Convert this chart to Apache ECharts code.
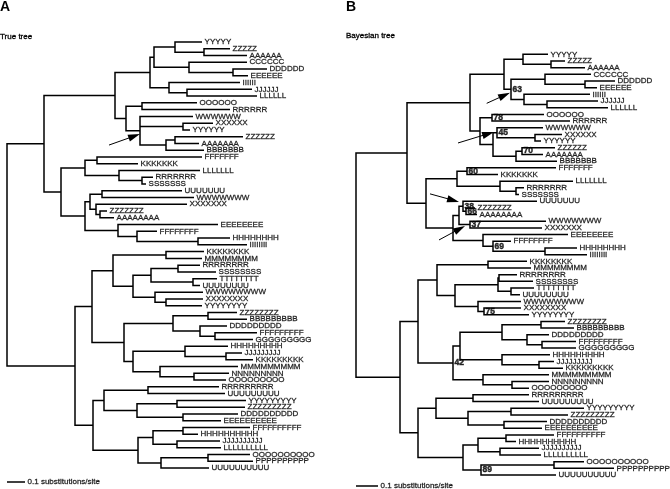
<!DOCTYPE html>
<html><head><meta charset="utf-8">
<script src="https://cdn.jsdelivr.net/npm/echarts@6/dist/echarts.min.js"></script>
<style>html,body{margin:0;padding:0;background:#fff}#c{width:670px;height:489px}</style>
</head><body><div id="c"></div>
<script>
// ---------- DATA ----------
// leaf labels, top to bottom
const namesA = ['YYYYY','ZZZZZ','AAAAAA','CCCCCC','DDDDDD','EEEEEE','IIIIII','JJJJJJ','LLLLLL','OOOOOO','RRRRRR','WWWWWW','XXXXXX','YYYYYY','ZZZZZZ',
 'AAAAAAA','BBBBBBB','FFFFFFF','KKKKKKK','LLLLLLL','RRRRRRR','SSSSSSS','UUUUUUU','WWWWWWW','XXXXXXX','ZZZZZZZ',
 'AAAAAAAA','EEEEEEEE','FFFFFFFF','HHHHHHHH','IIIIIIII','KKKKKKKK','MMMMMMMM','RRRRRRRR','SSSSSSSS','TTTTTTTT','UUUUUUUU','WWWWWWWW','XXXXXXXX','YYYYYYYY','ZZZZZZZZ',
 'BBBBBBBBB','DDDDDDDDD','FFFFFFFFF','GGGGGGGGG','HHHHHHHHH','JJJJJJJJJ','KKKKKKKKK','MMMMMMMMM','NNNNNNNNN','OOOOOOOOO','RRRRRRRRR','UUUUUUUUU','YYYYYYYYY','ZZZZZZZZZ',
 'DDDDDDDDDD','EEEEEEEEEE','FFFFFFFFFF','HHHHHHHHHH','JJJJJJJJJJ','LLLLLLLLLL','OOOOOOOOOO','PPPPPPPPPP','UUUUUUUUUU'];
const namesB = ['YYYYY','ZZZZZ','AAAAAA','CCCCCC','DDDDDD','EEEEEE','IIIIII','JJJJJJ','LLLLLL','OOOOOO','RRRRRR','WWWWWW','XXXXXX','YYYYYY','ZZZZZZ',
 'AAAAAAA','BBBBBBB','FFFFFFF','KKKKKKK','LLLLLLL','RRRRRRR','SSSSSSS','UUUUUUU','ZZZZZZZ','AAAAAAAA','WWWWWWW','XXXXXXX',
 'EEEEEEEE','FFFFFFFF','HHHHHHHH','IIIIIIII','KKKKKKKK','MMMMMMMM','RRRRRRRR','SSSSSSSS','TTTTTTTT','UUUUUUUU','WWWWWWWW','XXXXXXXX','YYYYYYYY','ZZZZZZZZ',
 'BBBBBBBBB','DDDDDDDDD','FFFFFFFFF','GGGGGGGGG','HHHHHHHHH','JJJJJJJJJ','KKKKKKKKK','MMMMMMMMM','NNNNNNNNN','OOOOOOOOO','RRRRRRRRR','UUUUUUUUU','YYYYYYYYY','ZZZZZZZZZ',
 'DDDDDDDDDD','EEEEEEEEEE','FFFFFFFFFF','HHHHHHHHHH','JJJJJJJJJJ','LLLLLLLLLL','OOOOOOOOOO','PPPPPPPPPP','UUUUUUUUUU'];
// leaf tip depth (distance from root, tree units)
const tipsA = [195,223,240,240,260,241,233,245,250,190,223,186,206,183,236,
 192,197,195,131,193,146,139,175,187,180,100,
 107,211,150,223,240,197,195,193,209,210,193,196,196,195,230,
 240,220,250,246,221,235,246,231,222,219,212,218,239,238,
 231,214,243,191,213,214,243,246,202];
const tipsB = [192,209,229,235,259,241,234,242,252,188,214,187,206,185,199,
 187,201,200,142,217,168,163,181,119,121,190,186,
 212,155,221,231,171,175,161,177,178,164,165,165,173,209,
 218,193,220,220,194,198,207,193,193,173,173,183,228,212,
 191,186,198,160,183,185,228,258,200];
// topology: leaf index, internal nodes ":depth", optional "#support"
const trueTreeUpper = '(((((0,(1,2):197):168,(3,(4,5):226):182):147,(6,(7,8):180):162):143,((9,10):135,(11,(12,13):176,((14,15):168,16):159):133):119):108,' +
 '(((17,18):90,(19,(20,21):135):112):78,(((22,23):95,(24,(25,26):93):89):83,(27,(28,(29,30):191):130):111):78):54):37';
const trueTreeLower = '((((31,32):159,(((33,34):171,(35,36):186):144,(37,(38,39):159):148):126):106,(((40,41):201,(42,(43,44):208):193):166,((45,(46,47):219):178,(48,(49,50):187):153):126):117):85,' +
 '(((51,52):141,((53,54):170,(55,56):176):130):97,(((57,58):176,(59,60):170):146,((61,62):201,63):154):131):86):68';
const bayesTreeUpper = '((((0,(1,2):195):167,((3,(4,5):229):189,(6,(7,8):191):168):155#63):148,((9,10):136#78,((11,(12,13):179):141#45,((14,15):166#70,16):160):137):124):114,' +
 '(((17,18):111#60,(19,(20,21):160):144):101,(((22,(23,24):110#66):107#38,(25,26):114#37):103,(27,(28,(29,30):189):137#69):127):97):70):51';
const bayesTreeLower = '((((31,32):132,(((33,34):143,(35,36):155):142,(37,(38,39):128#75):122):99):81,((((40,41):185,(42,(43,44):186):171):146,(45,(46,47):183):146):104,(48,(49,50):156):127):97#42):62,' +
 '(((51,52):117,((53,54):155,(55,56):148):112):80,(((57,58):150,(59,60):144):122,((61,62):198,63):125#89):107):62):44';
// annotation arrows: [tailDepth, tailRow, tipDepth, tipRow]
const arrowsA = [[102,15.24,133,13.61]];
const arrowsB = [[130.7,7.34,154,5.75],[102,13.28,138,11.63],[74,20.9,103,22.1],[83,27.8,109,25.7]];
// scale bars: tree units per 0.1 substitutions/site
const scaleBarA = 18, scaleBarB = 22;
const scaleText = '0.1 substitutions/site';

// ---------- LAYOUT ----------
function parseTree(str, tips){
  let i = 0;
  function node(){
    if (str[i] === '('){
      i++; const ch = [];
      while (true){
        ch.push(node());
        if (str[i] === ','){ i++; continue; }
        if (str[i] === ')'){ i++; break; }
        throw new Error('bad tree at ' + i);
      }
      const n = {children: ch};
      if (str[i] === ':'){ i++; let s=''; while (i < str.length && /[0-9.]/.test(str[i])) s += str[i++]; n.depth = +s; }
      if (str[i] === '#'){ i++; let s=''; while (i < str.length && /[0-9]/.test(str[i])) s += str[i++]; n.support = s; }
      return n;
    }
    let s=''; while (i < str.length && /[0-9]/.test(str[i])) s += str[i++];
    const k = +s; return {leaf: k, depth: tips[k]};
  }
  return node();
}
function setY(n){
  if (n.leaf !== undefined){ n.y = n.leaf; return n.y; }
  n.children.forEach(setY);
  n.y = (n.children[0].y + n.children[n.children.length-1].y) / 2;
  return n.y;
}
function collect(n, lines, sup){
  if (n.leaf !== undefined) return;
  const c = n.children, f = c[0], l = c[c.length-1];
  lines.push({coords: [[f.depth, f.y],[n.depth, f.y],[n.depth, l.y],[l.depth, l.y]]});
  for (let k = 1; k < c.length-1; k++) lines.push({coords: [[n.depth, c[k].y],[c[k].depth, c[k].y]]});
  if (n.support) sup.push({value: [n.depth, n.y], name: n.support});
  c.forEach(ch => collect(ch, lines, sup));
}
function buildTree(upper, lower, tips){
  const root = parseTree('(' + upper + ',' + lower + '):0', tips);
  setY(root);
  const lines = [], sup = [];
  collect(root, lines, sup);
  return {lines, sup};
}
const treeA = buildTree(trueTreeUpper, trueTreeLower, tipsA);
const treeB = buildTree(bayesTreeUpper, bayesTreeLower, tipsB);

const FONT = 'Liberation Sans, Arial, Helvetica, sans-serif';
function leafData(names, tips){ return names.map((nm,k)=>({value:[tips[k], k], name:nm})); }

function arrowRender(params, api){
  const a = api.coord([api.value(0), api.value(1)]);
  const b = api.coord([api.value(2), api.value(3)]);
  const dx = b[0]-a[0], dy = b[1]-a[1], L = Math.hypot(dx,dy), ux = dx/L, uy = dy/L;
  const hl = 12, hw = 3.6;
  const bx = b[0]-ux*hl, by = b[1]-uy*hl;
  return {type:'group', children:[
    {type:'line', shape:{x1:a[0],y1:a[1],x2:bx+ux*2,y2:by+uy*2}, style:{stroke:'#000', lineWidth:1}},
    {type:'polygon', shape:{points:[[b[0],b[1]],[bx-uy*hw, by+ux*hw],[bx+uy*hw, by-ux*hw]]}, style:{fill:'#000'}}
  ]};
}

const leafLabel = {show:true, position:'right', distance:2.5, formatter:'{b}', color:'#000', fontSize:8, fontFamily:FONT,
  textBorderColor:'#000', textBorderWidth:0.3};
const supportLabel = {show:true, position:'right', distance:1.5, formatter:'{b}', color:'#000', fontSize:8.5, fontWeight:'bold', fontFamily:FONT,
  textBorderColor:'#000', textBorderWidth:0.45};

function treeSeries(g, tree, names, tips, arrows, bar, barRow){
  return [
    {type:'lines', coordinateSystem:'cartesian2d', xAxisIndex:g, yAxisIndex:g, polyline:true, silent:true, clip:false,
     data: tree.lines, lineStyle:{color:'#000', width:1.5, opacity:1, curveness:0, cap:'butt', join:'miter'}},
    {type:'scatter', xAxisIndex:g, yAxisIndex:g, silent:true, clip:false, symbolSize:0.1, itemStyle:{color:'rgba(0,0,0,0)'},
     data: leafData(names, tips), label: leafLabel},
    {type:'scatter', xAxisIndex:g, yAxisIndex:g, silent:true, clip:false, symbolSize:0.1, itemStyle:{color:'rgba(0,0,0,0)'},
     data: tree.sup, z:5, label: supportLabel},
    {type:'custom', xAxisIndex:g, yAxisIndex:g, silent:true, clip:false, data: arrows, renderItem: arrowRender, z:6},
    {type:'lines', coordinateSystem:'cartesian2d', xAxisIndex:g, yAxisIndex:g, silent:true, clip:false,
     data:[{coords:[[0,barRow],[bar,barRow]]}], lineStyle:{color:'#000', width:1.5, opacity:1}},
    {type:'scatter', xAxisIndex:g, yAxisIndex:g, silent:true, clip:false, symbolSize:0.1, itemStyle:{color:'rgba(0,0,0,0)'},
     data:[{value:[bar, barRow], name: scaleText}], label: leafLabel}
  ];
}

const chart = echarts.init(document.getElementById('c'), null, {renderer:'canvas'});
chart.setOption({
  animation:false,
  backgroundColor:'#fff',
  grid:[{left:7, top:42, width:260, height:426}, {left:356, top:54.3, width:260, height:420.7}],
  xAxis:[{type:'value', gridIndex:0, min:0, max:260, show:false}, {type:'value', gridIndex:1, min:0, max:260, show:false}],
  yAxis:[{type:'value', gridIndex:0, min:0, max:63, inverse:true, show:false}, {type:'value', gridIndex:1, min:0, max:63, inverse:true, show:false}],
  graphic:[
    {type:'text', style:{x:0, y:7, text:'A', font:'bold 14px '+FONT, fill:'#000', verticalAlign:'middle'}},
    {type:'text', style:{x:0, y:36.3, text:'True tree', font:'8px '+FONT, fill:'#000', stroke:'#000', lineWidth:0.3, verticalAlign:'middle'}},
    {type:'text', style:{x:346, y:7, text:'B', font:'bold 14px '+FONT, fill:'#000', verticalAlign:'middle'}},
    {type:'text', style:{x:346, y:36, text:'Bayesian tree', font:'8px '+FONT, fill:'#000', stroke:'#000', lineWidth:0.3, verticalAlign:'middle'}}
  ],
  series: [].concat(
    treeSeries(0, treeA, namesA, tipsA, arrowsA, scaleBarA, 65.1),
    treeSeries(1, treeB, namesB, tipsB, arrowsB, scaleBarB, 64.6)
  )
});
</script></body></html>
